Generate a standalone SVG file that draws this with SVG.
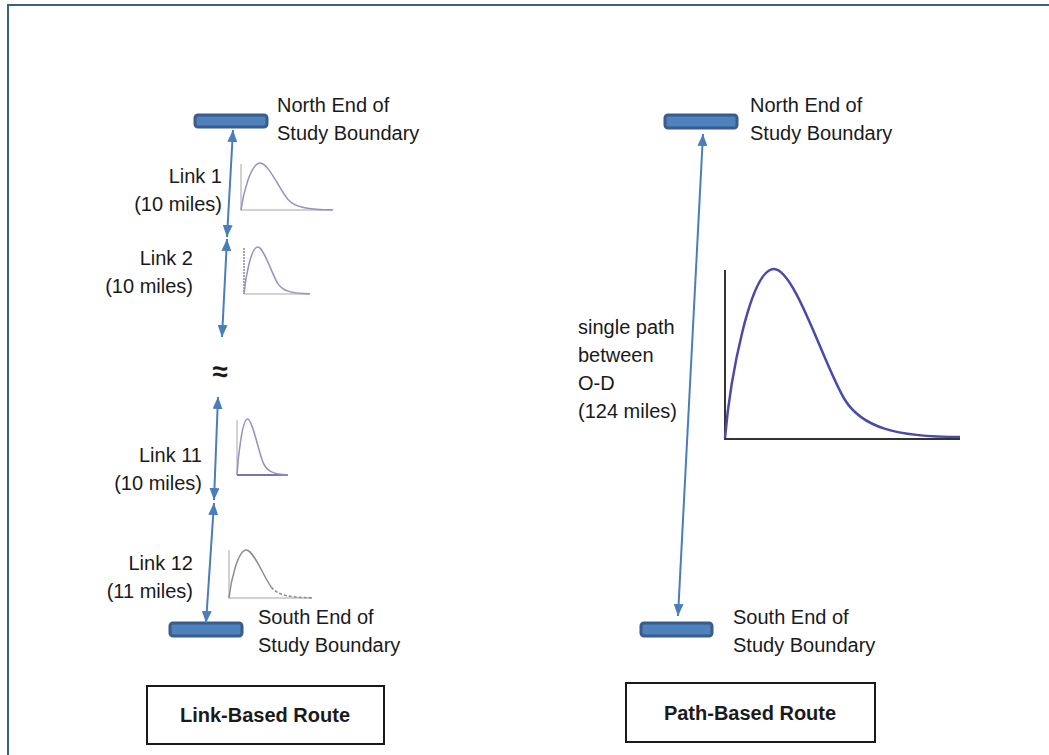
<svg xmlns="http://www.w3.org/2000/svg" width="1049" height="755" viewBox="0 0 1049 755">
<defs>
<marker id="ah" viewBox="0 0 12 10" refX="12" refY="5" markerWidth="12" markerHeight="10" markerUnits="userSpaceOnUse" orient="auto-start-reverse">
<path d="M0,0 L12,5 L0,10 z" fill="#4a7ebb"/>
</marker>
<style>
.t{font-family:"Liberation Sans",Arial,sans-serif;font-size:20px;fill:#1a1a1a}
.r{text-anchor:end}
.b{font-weight:bold;text-anchor:middle}
.bar{fill:#4f81bd;stroke:#385d8a;stroke-width:3}
.con{stroke:#4a7ebb;stroke-width:2;fill:none;marker-start:url(#ah);marker-end:url(#ah)}
.box{fill:#fff;stroke:#1a1a1a;stroke-width:2}
.ax{stroke:#c4c4c4;stroke-width:1.5;fill:none}
.cv{stroke:#9590c6;stroke-width:1.5;fill:none}
</style>
</defs>
<rect width="1049" height="755" fill="#fff"/>
<path d="M8,755 L8,5 L1049,5" fill="none" stroke="#3b5f8e" stroke-width="2"/>

<g id="north-left">
<rect class="bar" x="195" y="115" width="72" height="12" rx="3"/>
<text class="t" x="277" y="112">North End of</text>
<text class="t" x="277" y="140">Study Boundary</text>
</g>
<g id="south-left">
<rect class="bar" x="170" y="623" width="72" height="13" rx="3"/>
<text class="t" x="258" y="624">South End of</text>
<text class="t" x="258" y="652">Study Boundary</text>
</g>
<g id="link1">
<text class="t r" x="222" y="183">Link 1</text>
<text class="t r" x="222" y="211">(10 miles)</text>
<path class="ax" d="M241,164 L241,210 L333,210"/>
<path class="cv" d="M241,210 C243,194 250.8,163 260.2,163 C268.4,163 280.1,190.5 288,199.4 C294.6,207 307.5,209.7 333,209.7"/>
</g>
<g id="link2">
<text class="t r" x="193" y="265">Link 2</text>
<text class="t r" x="193" y="293">(10 miles)</text>
<path class="ax" d="M310,294 L244,294"/>
<path d="M244,248 L244,294" stroke="#888" stroke-width="1.5" stroke-dasharray="2,1" fill="none"/>
<path class="cv" d="M244,294 C245.4,278 251,247 257.8,247 C263.7,247 272.1,274.5 277.7,283.4 C282.5,291 291.7,293.7 310,293.7"/>
</g>
<g id="gap">
<text class="t b" x="220" y="381" style="font-size:28px">≈</text>
</g>
<g id="link11">
<text class="t r" x="202" y="462">Link 11</text>
<text class="t r" x="202" y="490">(10 miles)</text>
<path class="ax" d="M237,420 L237,475"/>
<path d="M237,475 L288,475" stroke="#4a4a8a" stroke-width="1.5" fill="none"/>
<path class="cv" d="M237,475 C238.1,456 242.4,419 247.6,419 C252.2,419 258.7,451.8 263,462.4 C266.7,471.4 273.9,474.7 288,474.7"/>
</g>
<g id="link12">
<text class="t r" x="193" y="570">Link 12</text>
<text class="t r" x="193" y="598">(11 miles)</text>
<path class="ax" d="M229,550 L229,598 L312,598"/>
<path d="M229,598 C230.8,581.5 237.8,550 246.3,550 C253.7,550 264.3,578.1 271.4,587.2" stroke="#8c8c8c" stroke-width="1.5" fill="none"/>
<path d="M271.4,587.2 C277.4,594.9 289,597.7 312,597.7" stroke="#8c8c8c" stroke-width="1.5" stroke-dasharray="3,2" fill="none"/>
</g>

<g id="north-right">
<rect class="bar" x="665" y="115" width="72" height="13" rx="3"/>
<text class="t" x="750" y="112">North End of</text>
<text class="t" x="750" y="140">Study Boundary</text>
</g>
<g id="south-right">
<rect class="bar" x="641" y="623" width="71" height="13" rx="3"/>
<text class="t" x="733" y="624">South End of</text>
<text class="t" x="733" y="652">Study Boundary</text>
</g>
<g id="path-label">
<text class="t" x="578" y="334">single path</text>
<text class="t" x="578" y="362">between</text>
<text class="t" x="578" y="390">O-D</text>
<text class="t" x="578" y="418">(124 miles)</text>
</g>
<g id="big-chart">
<path d="M725,270 L725,439 L960,439" stroke="#333" stroke-width="2" fill="none"/>
<path d="M725,438 C730,380 750,269 774,269 C795,269 825,368 845,400 C862,427 895,437 960,437" stroke="#4a4aa8" stroke-width="2.5" fill="none"/>
</g>

<g id="link-based-route">
<rect class="box" x="147" y="686" width="237" height="58"/>
<text class="t b" x="265" y="722">Link-Based Route</text>
</g>
<g id="path-based-route">
<rect class="box" x="626" y="683" width="249" height="59"/>
<text class="t b" x="750" y="720">Path-Based Route</text>
</g>

<g id="connectors">
<line class="con" x1="233" y1="130" x2="227" y2="237"/>
<line class="con" x1="227" y1="239" x2="222" y2="337"/>
<line class="con" x1="218" y1="397" x2="214" y2="500"/>
<line class="con" x1="214" y1="503" x2="206" y2="623"/>
<line class="con" x1="703" y1="134" x2="678" y2="616"/>
</g>
</svg>
